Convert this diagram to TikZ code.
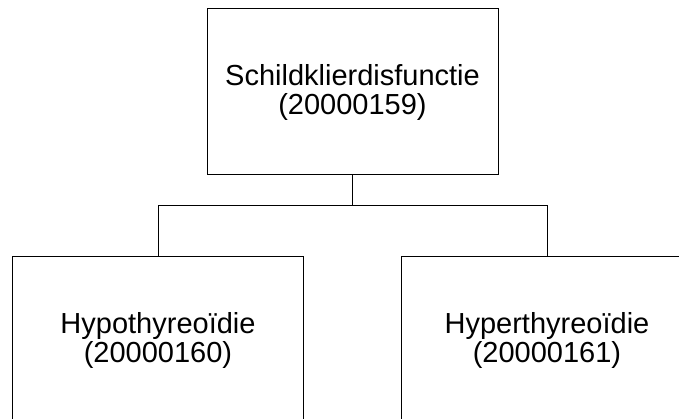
\documentclass[tikz,border=0pt]{standalone}
\usepackage{fontspec}
\setmainfont{Liberation Sans}
\usetikzlibrary{positioning}

\begin{document}
\begin{tikzpicture}
[x=1pt,y=-1pt,line width=1pt,
 term/.style = {draw, rectangle, inner sep = 0pt, minimum width = 291pt, minimum height = 166pt,
   align = center, font = \fontsize{29}{29}\selectfont},]
\useasboundingbox (0,0) rectangle (679,419);
\clip (0,0) rectangle (679,419);
\node (top) at (352.5,92)[term] {Schildklierdisfunctie\\(20000159)};
\node (hypo) at (158,340)[term] {Hypothyreoïdie\\(20000160)};
\node (hyper) at (547,340)[term] {Hyperthyreoïdie\\(20000161)};
\coordinate (bus) at (352.5,206);
\draw (top.south)--(bus);
\draw (bus)-|(hypo.north);
\draw (bus)-|(hyper.north);



\end{tikzpicture}
\end{document}
